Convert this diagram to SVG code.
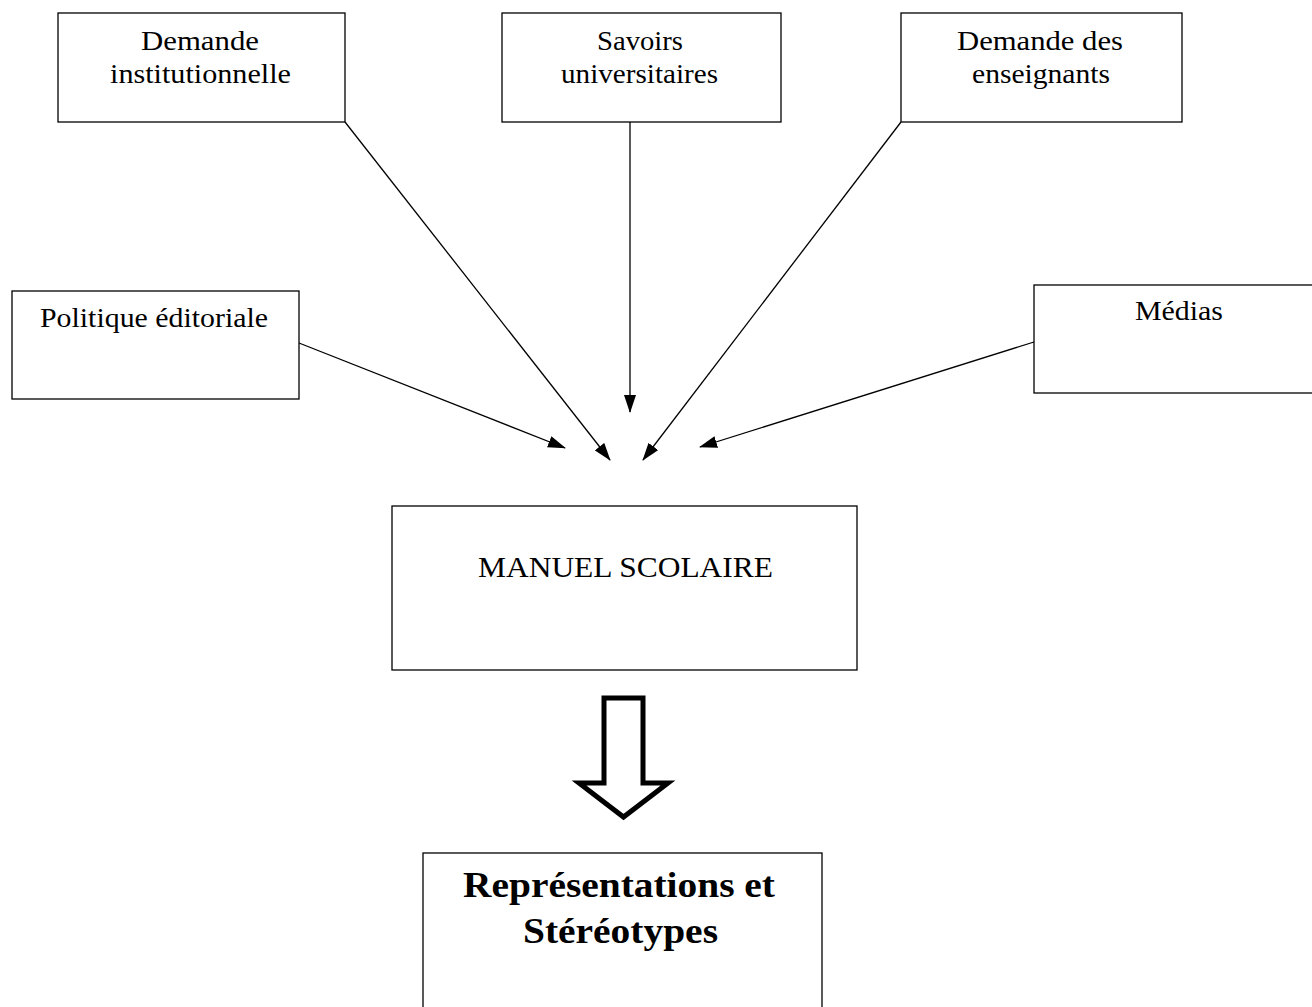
<svg xmlns="http://www.w3.org/2000/svg" width="1312" height="1007" viewBox="0 0 1312 1007">
<style>
.box{fill:#fff;stroke:#000;stroke-width:1.3}
.t{font-family:"Liberation Serif","Times New Roman",serif;font-size:27px;fill:#000;text-anchor:middle}
.m{font-family:"Liberation Serif","Times New Roman",serif;font-size:29px;fill:#000;text-anchor:middle}
.b{font-family:"Liberation Serif","Times New Roman",serif;font-size:35px;font-weight:bold;fill:#000;text-anchor:middle}
.c{stroke:#000;stroke-width:1.3;fill:none;marker-end:url(#ah)}
</style>
<defs>
<marker id="ah" markerWidth="18" markerHeight="12" refX="17" refY="6" orient="auto" markerUnits="userSpaceOnUse">
<path d="M0,0 L18,6 L0,12 Z" fill="#000"/>
</marker>
</defs>
<rect width="1312" height="1007" fill="#fff"/>
<g id="n1"><rect class="box" x="58" y="13" width="287" height="109"/><text class="t" x="200" y="50" textLength="118" lengthAdjust="spacingAndGlyphs">Demande</text><text class="t" x="200.5" y="83" textLength="181" lengthAdjust="spacingAndGlyphs">institutionnelle</text></g>
<g id="n2"><rect class="box" x="502" y="13" width="279" height="109"/><text class="t" x="640" y="50" textLength="86" lengthAdjust="spacingAndGlyphs">Savoirs</text><text class="t" x="639.5" y="83" textLength="157" lengthAdjust="spacingAndGlyphs">universitaires</text></g>
<g id="n3"><rect class="box" x="901" y="13" width="281" height="109"/><text class="t" x="1040" y="50" textLength="166" lengthAdjust="spacingAndGlyphs">Demande des</text><text class="t" x="1041" y="83" textLength="138" lengthAdjust="spacingAndGlyphs">enseignants</text></g>
<g id="n4"><rect class="box" x="12" y="291" width="287" height="108"/><text class="t" x="154" y="327" textLength="228" lengthAdjust="spacingAndGlyphs">Politique éditoriale</text></g>
<g id="n5"><rect class="box" x="1034" y="285" width="290" height="108"/><text class="t" x="1179" y="320" textLength="88" lengthAdjust="spacingAndGlyphs">Médias</text></g>
<g id="n6"><rect class="box" x="392" y="506" width="465" height="164"/><text class="m" x="625.5" y="577" textLength="295" lengthAdjust="spacingAndGlyphs">MANUEL SCOLAIRE</text></g>
<g id="n7"><rect class="box" x="423" y="853" width="399" height="170"/><text class="b" x="619" y="897" textLength="312" lengthAdjust="spacingAndGlyphs">Représentations et</text><text class="b" x="620.5" y="943" textLength="195" lengthAdjust="spacingAndGlyphs">Stéréotypes</text></g>
<g id="connectors">
<line class="c" x1="345" y1="122" x2="610" y2="460"/>
<line class="c" x1="630" y1="122" x2="630" y2="412"/>
<line class="c" x1="901" y1="122" x2="643" y2="460"/>
<line class="c" x1="299" y1="343" x2="565" y2="448"/>
<line class="c" x1="1034" y1="342" x2="700" y2="447"/>
<path d="M604,698 L643,698 L643,783 L668,783 L623.5,817 L579,783 L604,783 Z" fill="#fff" stroke="#000" stroke-width="5" stroke-linejoin="miter"/>
</g>
</svg>
